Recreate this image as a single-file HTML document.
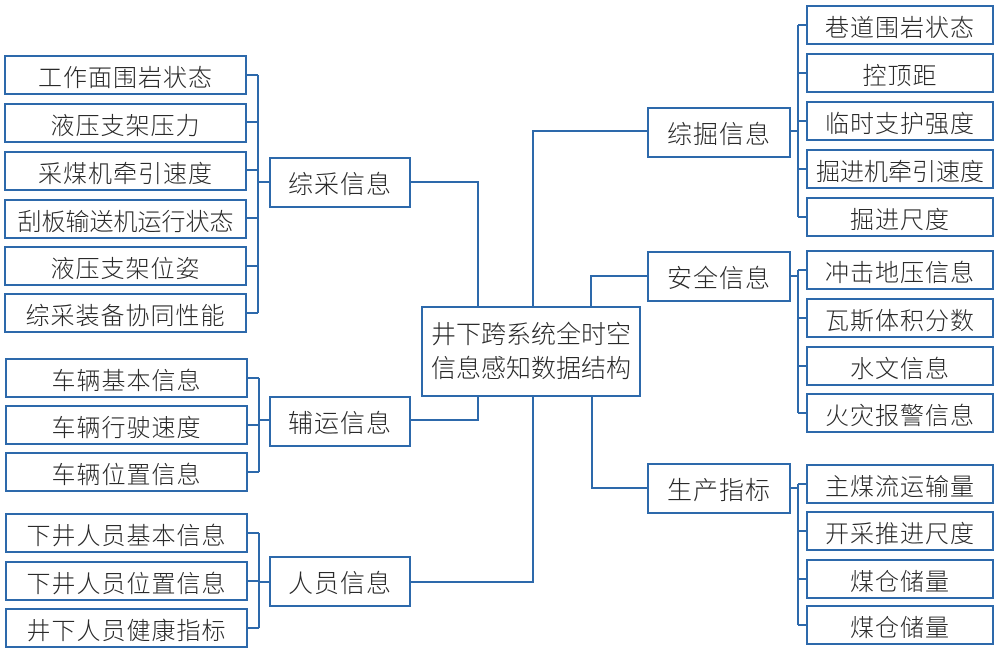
<!DOCTYPE html>
<html><head><meta charset="utf-8"><style>
body{margin:0;width:999px;height:651px;background:#fff;position:relative;overflow:hidden;font-family:"Liberation Sans","Noto Sans CJK SC",sans-serif;color:#2a2a2a}
.b{position:absolute;box-sizing:border-box;border:2.5px solid #2d69ab;background:#fff;display:flex;align-items:center;justify-content:center;font-size:24px;font-weight:300;white-space:nowrap;letter-spacing:1px}
.m{font-size:25px}
svg{position:absolute;left:0;top:0}
</style></head><body>
<svg width="999" height="651" fill="none" stroke="#2d69ab" stroke-width="2">
<path d="M246 75H258M246 122H258M246 170H258M246 218H258M246 266H258M246 313H258M258 75V313M258 182H270"/>
<path d="M410 182H478V306"/>
<path d="M246 378H259M246 425H259M246 472H259M259 378V472M259 420H270"/>
<path d="M410 420H478V396"/>
<path d="M246 533H259M246 581H259M246 628H259M259 533V628M259 582H270"/>
<path d="M410 582H533V396"/>
<path d="M648 131H533V306"/>
<path d="M790 131H798M798 25V217M798 25H806M798 73H806M798 121H806M798 169H806M798 217H806"/>
<path d="M648 276H591V306"/>
<path d="M790 276H798M798 270V413M798 270H806M798 318H806M798 366H806M798 413H806"/>
<path d="M648 488H592V396"/>
<path d="M790 488H798M798 484V625M798 484H806M798 531H806M798 579H806M798 625H806"/>
</svg>

<div class="b" style="left:4px;top:55px;width:243px;height:40px">工作面围岩状态</div>
<div class="b" style="left:4px;top:103px;width:243px;height:40px">液压支架压力</div>
<div class="b" style="left:4px;top:151px;width:243px;height:40px">采煤机牵引速度</div>
<div class="b" style="left:4px;top:199px;width:243px;height:40px;letter-spacing:0">刮板输送机运行状态</div>
<div class="b" style="left:4px;top:246px;width:243px;height:40px">液压支架位姿</div>
<div class="b" style="left:4px;top:293px;width:243px;height:40px">综采装备协同性能</div>

<div class="b" style="left:5px;top:358px;width:243px;height:40px">车辆基本信息</div>
<div class="b" style="left:5px;top:405px;width:243px;height:40px">车辆行驶速度</div>
<div class="b" style="left:5px;top:452px;width:243px;height:40px">车辆位置信息</div>

<div class="b" style="left:5px;top:513px;width:243px;height:40px">下井人员基本信息</div>
<div class="b" style="left:5px;top:561px;width:243px;height:40px">下井人员位置信息</div>
<div class="b" style="left:5px;top:608px;width:243px;height:40px">井下人员健康指标</div>

<div class="b m" style="left:269px;top:157px;width:142px;height:51px">综采信息</div>
<div class="b m" style="left:269px;top:396px;width:142px;height:51px">辅运信息</div>
<div class="b m" style="left:269px;top:556px;width:142px;height:51px">人员信息</div>

<div class="b" style="left:421px;top:306px;width:220px;height:91px;font-size:25px;white-space:normal;line-height:34px;text-align:center;letter-spacing:0">井下跨系统全时空<br>信息感知数据结构</div>

<div class="b m" style="left:647px;top:107px;width:144px;height:51px">综掘信息</div>
<div class="b m" style="left:647px;top:251px;width:144px;height:51px">安全信息</div>
<div class="b m" style="left:647px;top:463px;width:144px;height:51px">生产指标</div>

<div class="b" style="left:806px;top:5px;width:188px;height:40px">巷道围岩状态</div>
<div class="b" style="left:806px;top:53px;width:188px;height:40px">控顶距</div>
<div class="b" style="left:806px;top:101px;width:188px;height:40px">临时支护强度</div>
<div class="b" style="left:806px;top:149px;width:188px;height:40px;letter-spacing:0">掘进机牵引速度</div>
<div class="b" style="left:806px;top:197px;width:188px;height:40px">掘进尺度</div>

<div class="b" style="left:806px;top:250px;width:188px;height:40px">冲击地压信息</div>
<div class="b" style="left:806px;top:298px;width:188px;height:40px">瓦斯体积分数</div>
<div class="b" style="left:806px;top:346px;width:188px;height:40px">水文信息</div>
<div class="b" style="left:806px;top:393px;width:188px;height:40px">火灾报警信息</div>

<div class="b" style="left:806px;top:464px;width:188px;height:40px">主煤流运输量</div>
<div class="b" style="left:806px;top:511px;width:188px;height:40px">开采推进尺度</div>
<div class="b" style="left:806px;top:559px;width:188px;height:40px">煤仓储量</div>
<div class="b" style="left:806px;top:605px;width:188px;height:40px">煤仓储量</div>
</body></html>
